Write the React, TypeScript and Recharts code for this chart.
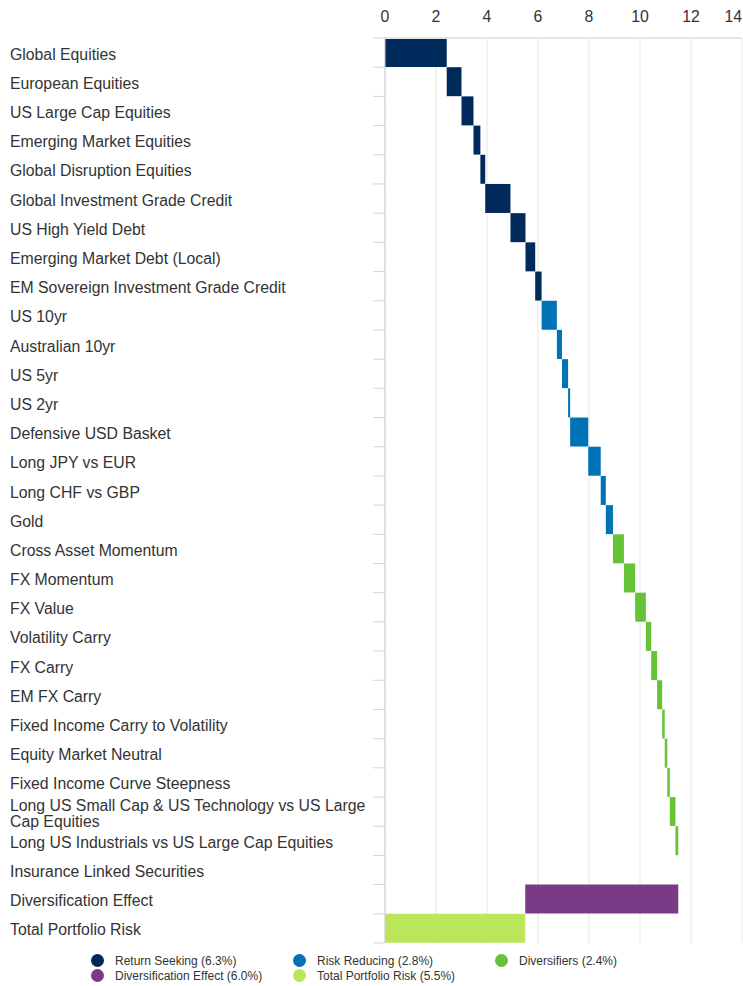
import React from "react";
import {
  BarChart,
  Bar,
  XAxis,
  YAxis,
  CartesianGrid,
  Legend,
  Cell
} from "recharts";

const categories = [
  "Global Equities",
  "European Equities",
  "US Large Cap Equities",
  "Emerging Market Equities",
  "Global Disruption Equities",
  "Global Investment Grade Credit",
  "US High Yield Debt",
  "Emerging Market Debt (Local)",
  "EM Sovereign Investment Grade Credit",
  "US 10yr",
  "Australian 10yr",
  "US 5yr",
  "US 2yr",
  "Defensive USD Basket",
  "Long JPY vs EUR",
  "Long CHF vs GBP",
  "Gold",
  "Cross Asset Momentum",
  "FX Momentum",
  "FX Value",
  "Volatility Carry",
  "FX Carry",
  "EM FX Carry",
  "Fixed Income Carry to Volatility",
  "Equity Market Neutral",
  "Fixed Income Curve Steepness",
  "Long US Small Cap & US Technology vs US Large Cap Equities",
  "Long US Industrials vs US Large Cap Equities",
  "Insurance Linked Securities",
  "Diversification Effect",
  "Total Portfolio Risk"
];

// contribution of each line (the total row is drawn from 0 to the running sum)
const contributions = [
  2.42, 0.58, 0.47, 0.27, 0.19, 0.99, 0.59, 0.38, 0.25,
  0.6, 0.2, 0.24, 0.08, 0.71, 0.49, 0.2, 0.28,
  0.43, 0.44, 0.42, 0.21, 0.23, 0.2, 0.1, 0.1, 0.1, 0.22, 0.11, 0,
  -6.0, 0
];

const groups = [
  "rs", "rs", "rs", "rs", "rs", "rs", "rs", "rs", "rs",
  "rr", "rr", "rr", "rr", "rr", "rr", "rr", "rr",
  "div", "div", "div", "div", "div", "div", "div", "div", "div", "div", "div", "div",
  "de", "total"
];

const groupKeys = ["rs", "rr", "div", "de", "total"];
const groupNames = [
  "Return Seeking (6.3%)",
  "Risk Reducing (2.8%)",
  "Diversifiers (2.4%)",
  "Diversification Effect (6.0%)",
  "Total Portfolio Risk (5.5%)"
];
const groupColors = ["#002a5c", "#0073b7", "#66c236", "#7b3a85", "#bce65a"];

const xTicks = [0, 2, 4, 6, 8, 10, 12, 14];

let running = 0;
const data = categories.map((name, i) => {
  let range: [number, number];
  if (groups[i] === "total") {
    range = [0, running];
  } else {
    const next = running + contributions[i];
    range = [Math.min(running, next), Math.max(running, next)];
    running = next;
  }
  return { name, range, group: groups[i] };
});

const colorOf = (g: string) => groupColors[groupKeys.indexOf(g)];

const PLOT_TOP = 38;
const PLOT_BOTTOM = 943;
const BAND = (PLOT_BOTTOM - PLOT_TOP) / categories.length;
const LABEL_SIZE = 15.8;
const LINE_GAP = 16;

const ValueTick = (props: any) => {
  const { x, payload } = props;
  const last = payload.value === xTicks[xTicks.length - 1];
  return (
    <text
      x={last ? 742 : x}
      y={16}
      textAnchor={last ? "end" : "middle"}
      dominantBaseline="central"
      fontSize={LABEL_SIZE}
      fill="#333333"
    >
      {payload.value}
    </text>
  );
};

const CategoryTick = (props: any) => {
  const { y, payload, index } = props;
  const label: string = payload.value;
  let lines = [label];
  if (label.length > 45) {
    const cut = label.lastIndexOf(" ", 46);
    lines = [label.slice(0, cut), label.slice(cut + 1)];
  }
  const top = y - BAND / 2;
  return (
    <g>
      <line x1={373} x2={385} y1={top} y2={top} stroke="#ccd6eb" />
      {index === categories.length - 1 && (
        <line x1={373} x2={385} y1={top + BAND} y2={top + BAND} stroke="#ccd6eb" />
      )}
      <text
        x={10}
        y={y + 1 - ((lines.length - 1) * LINE_GAP) / 2}
        textAnchor="start"
        dominantBaseline="central"
        fontSize={LABEL_SIZE}
        fill="#333333"
      >
        {lines.map((l, k) => (
          <tspan key={k} x={10} dy={k === 0 ? 0 : LINE_GAP}>
            {l}
          </tspan>
        ))}
      </text>
    </g>
  );
};

const LegendContent = () => (
  <div
    style={{
      position: "relative",
      height: 40,
      width: 743,
      fontSize: 12,
      color: "#333333",
      fontFamily: "'Liberation Sans', Arial, sans-serif"
    }}
  >
    {groupNames.map((n, i) => (
      <div
        key={n}
        style={{
          position: "absolute",
          left: 91 + (i % 3) * 202,
          top: 10 + Math.floor(i / 3) * 15,
          height: 15,
          display: "flex",
          alignItems: "center",
          whiteSpace: "nowrap"
        }}
      >
        <span
          style={{
            width: 13,
            height: 13,
            borderRadius: "50%",
            background: groupColors[i],
            display: "inline-block",
            marginRight: 11
          }}
        />
        {n}
      </div>
    ))}
  </div>
);

export default function App() {
  return (
    <div style={{ position: "absolute", left: 0, top: 0, fontFamily: "'Liberation Sans', Arial, sans-serif" }}>
      <BarChart
        layout="vertical"
        width={743}
        height={986}
        data={data}
        barCategoryGap={0}
        margin={{ top: 8, right: 1, left: 0, bottom: 3 }}
      >
        <CartesianGrid horizontal={false} stroke="#e6e6e6" />
        <XAxis
          type="number"
          orientation="top"
          domain={[0, 14]}
          ticks={xTicks}
          height={30}
          tickLine={false}
          axisLine={{ stroke: "#e6e6e6", strokeWidth: 2 }}
          tick={<ValueTick />}
          interval={0}
          allowDataOverflow
        />
        <YAxis
          type="category"
          dataKey="name"
          width={385}
          interval={0}
          tickLine={false}
          axisLine={{ stroke: "#cccccc" }}
          tick={<CategoryTick />}
        />
        <Legend verticalAlign="bottom" content={<LegendContent />} />
        <Bar dataKey="range" isAnimationActive={false}>
          {data.map((d, i) => (
            <Cell key={i} fill={colorOf(d.group)} />
          ))}
        </Bar>
      </BarChart>
    </div>
  );
}
